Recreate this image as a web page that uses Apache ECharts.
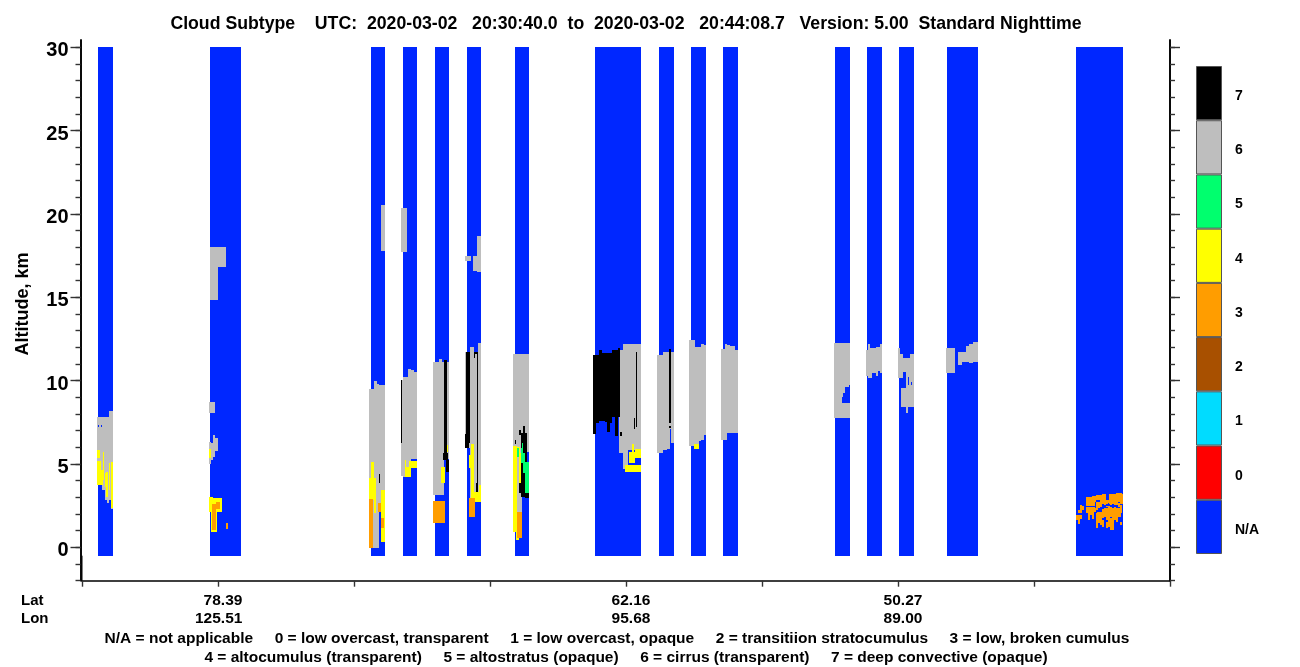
<!DOCTYPE html>
<html>
<head>
<meta charset="utf-8">
<style>html,body{margin:0;padding:0;background:#fff}#c{width:1300px;height:667px}</style>
<script src="https://cdn.jsdelivr.net/npm/echarts@6/dist/echarts.min.js"></script>
</head>
<body>
<div id="c"></div>
<script>
// All rectangles: [profileStart, profileEnd, altitudeBottomKm, altitudeTopKm]
const classNA = [[16,31,-0.5,30],[128,159,-0.5,30],[289,303,-0.5,30],[321,335,-0.5,30],[353,367,-0.5,30],[385,399,-0.5,30],[433,447,-0.5,30],[513,559,-0.5,30],[577,592,-0.5,30],[609,624,-0.5,30],[641,656,-0.5,30],[753,768,-0.5,30],[785,800,-0.5,30],[817,832,-0.5,30],[865,896,-0.5,30],[994,1041,-0.5,30]];
const class6 = [
 [15,20,3.74,7.82],[20,23,3.44,7.82],[23,25,2.84,7.82],[25,27,2.68,7.82],[27,29,2.84,8.18],[29,31,2.3,8.18],
 [128,144,16.81,18.01],[128,136,14.84,16.81],[127,133,8.06,8.72],[127,129,5.0,6.32],[129,131,5.24,6.24],[131,133,5.44,6.74],[133,136,5.78,6.56],
 [299,303,17.77,20.53],[319,325,17.71,20.35],[383,389,17.17,17.47],[391,395,16.57,17.47],[395,399,16.51,18.67],
 [287,292,-0.04,9.5],[292,295,-0.04,9.98],[295,297,-0.04,9.8],[297,299,2.14,9.74],[299,303,3.44,9.74],
 [319,321,4.28,10.04],[321,326,4.22,10.22],[326,329,4.22,10.7],[329,332,5.3,10.64],[332,335,5.3,10.52],
 [351,357,3.14,11.12],[357,360,3.14,11.3],[360,362,3.14,11.12],[362,367,5.3,11.12],
 [383,388,5.94,11.72],[388,392,2.84,12.02],[392,396,2.84,11.72],[396,399,2.84,12.26],
 [431,435,1.0,11.6],[435,440,2.14,11.6],[440,447,5.74,11.6],
 [537,541,5.66,11.84],[541,546,4.7,12.2],[546,559,5.84,12.2],
 [575,581,5.66,11.54],[581,585,5.84,11.74],[585,588,5.9,11.74],[588,589,7.1,11.74],[589,592,6.26,11.7],
 [607,613,6.08,12.44],[613,617,6.08,12.04],[617,619,6.38,12.04],[619,622,6.44,12.2],[622,624,6.74,12.14],
 [639,643,6.44,11.9],[643,645,6.44,12.18],[645,648,6.86,12.14],[648,653,6.86,12.06],[653,656,6.86,11.86],
 [752,760,8.66,12.26],[760,761,9.04,12.26],[761,763,9.28,12.26],[763,767,9.64,12.26],[767,768,9.74,12.26],[752,768,7.76,8.66],
 [784,786,10.28,11.84],[786,788,10.16,12.2],[788,790,10.16,11.94],[790,792,10.44,11.94],[792,794,10.48,11.94],[794,796,10.28,12.04],[796,798,10.56,12.04],[798,800,10.44,12.2],
 [816,818,10.16,11.96],[818,821,10.16,11.6],[821,824,10.5,11.36],[819,824,8.44,9.54],[824,826,8.08,11.36],[826,832,8.4,9.74],[827,832,9.74,10.24],[826,828,10.24,11.36],[828,832,10.24,11.6],
 [864,873,10.46,11.96],[876,880,10.94,11.7],[880,884,11.1,11.7],[884,887,11.1,12.1],[887,891,11.04,12.2],[891,896,11.12,12.32]
];
const class7 = [
 [319,320,6.24,10.04],[297,298,3.84,4.4],
 [362,365,5.64,11.24],[361,366,5.24,5.64],[364,367,4.54,5.24],
 [384,388,6.24,11.72],[383,387,5.94,6.8],[395,396,3.64,11.72],[392,393,11.36,11.72],[392,395,11.6,11.72],[394,396,3.34,3.84],
 [439,445,3.04,6.84],[441,443,6.84,7.28],[437,439,6.74,7.04],[443,447,2.98,3.24],[437,441,3.24,3.84],[433,434,6.2,6.44],
 [511,514,6.8,11.54],[514,517,7.44,11.54],[517,520,7.58,11.84],[520,523,7.6,11.66],[523,525,7.54,11.66],[525,528,6.94,11.66],[528,530,7.44,11.66],[530,533,7.84,11.84],[533,536,6.68,11.84],[536,538,7.84,11.94],
 [554,555,7.24,11.74],[552,553,7.1,7.74],[538,540,6.68,6.94],
 [587,589,7.46,11.9],[587,589,7.16,7.3]
];
const class4 = [
 [15,18,5.34,5.84],[15,19,3.74,5.18],[19,21,3.74,4.64],[21,22,4.04,5.74],[23,24,3.64,4.44],[24,26,3.04,4.54],[27,28,3.44,5.04],[29,31,2.34,5.14],
 [127,129,5.34,5.9],[127,131,2.12,3.02],[131,140,2.12,2.94],[129,135,0.94,2.12],
 [287,294,2.84,4.14],[289,292,2.84,5.14],[292,294,2.04,4.14],[299,303,0.32,3.44],
 [323,329,4.22,4.8],[323,324,4.8,5.24],[327,335,4.76,5.18],
 [359,363,3.84,4.84],[365,366,5.74,6.14],
 [387,389,4.74,5.54],[389,392,3.24,6.2],[389,399,2.7,3.34],[397,399,2.74,3.74],
 [431,435,0.94,6.08],[435,438,5.44,6.04],[437,439,3.84,5.64],[434,437,0.44,0.94],[445,447,4.4,4.54],
 [547,553,5.04,5.7],[553,559,5.34,5.9],[543,559,4.52,4.94],[550,552,5.7,6.2],
 [612,617,5.9,6.2]
];
const class5 = [[443,447,3.26,5.12],[439,441,5.06,5.96],[441,443,4.46,5.66],[435,437,5.42,5.96],[440,441,5.84,6.24]];
const class3 = [
 [130,134,1.04,2.6],[134,138,2.3,2.72],[144,146,1.1,1.46],
 [287,291,-0.04,2.88],[296,299,2.14,2.64],[299,302,1.14,1.74],
 [351,363,1.46,2.78],[387,393,1.82,2.96],[435,440,0.54,2.14],
 [1004,1013,2.48,3.0],[1014,1023,2.6,3.14],[1027,1041,2.6,3.2],[1005,1013,2.14,2.44],[1015,1020,1.64,2.14],[1022,1026,1.84,2.34],[1028,1032,1.84,2.34],[1034,1039,1.84,2.34]
];
// scattered low cloud of the last segment: [profile, bottomKm, topKm]
const speckle3 = [
 [994,1.64,1.94],[996,2.04,2.24],[996,1.4,1.94],[998,2.04,2.54],[998,1.68,1.94],[1000,2.24,2.48],
 [1004,2.48,2.94],[1004,2.04,2.44],[1006,2.48,2.94],[1006,1.64,2.44],[1008,2.6,2.94],[1008,1.94,2.24],
 [1010,2.6,3.08],[1010,1.68,2.14],[1012,2.74,3.08],[1012,2.14,2.34],[1014,2.94,3.08],[1014,2.24,2.64],[1014,1.14,2.04],
 [1016,2.84,3.14],[1016,2.34,2.74],[1016,1.44,2.14],[1018,2.84,3.04],[1018,2.44,2.64],[1018,1.34,1.74],
 [1020,2.64,3.2],[1020,1.74,2.28],[1020,1.24,1.64],[1022,2.54,3.2],[1022,1.84,2.28],[1024,2.44,2.84],[1024,1.64,2.34],[1024,1.14,1.54],
 [1026,2.64,2.84],[1026,1.84,2.6],[1026,1.24,1.84],[1028,2.54,3.04],[1028,2.04,2.44],[1028,1.04,1.74],
 [1030,2.64,3.14],[1030,1.54,2.04],[1030,1.04,1.54],[1032,2.54,3.2],[1032,1.94,2.44],[1032,1.64,1.94],
 [1034,2.54,3.24],[1034,1.54,2.04],[1036,2.74,3.24],[1036,2.44,2.64],[1036,1.94,2.04],
 [1038,2.84,3.24],[1038,2.04,2.54],[1038,1.34,1.54]
];
const naHoles = [[16,17,7.2,7.34],[19,20,7.2,7.34],[829,830,9.74,9.94],[553,559,4.94,5.34],[588,589,6.0,7.1],[1014,1018,2.7,2.84],[1036,1038,2.64,2.74],[1024,1028,2.46,2.6]];
const altitudeLabels = [0,5,10,15,20,25,30];
const altitudeTicks = [-2,-1,0,1,2,3,4,5,6,7,8,9,10,11,12,13,14,15,16,17,18,19,20,21,22,23,24,25,26,27,28,29,30];
const latLonAnchors = [160.4,568.4,840.4];
const latLabels = ['78.39','62.16','50.27'];
const lonLabels = ['125.51','95.68','89.00'];
const legendCategories = ['N/A','0','1','2','3','4','5','6','7'];
const legendColors = ['#0027ff','#ff0000','#00dcff','#a85000','#ff9d00','#ffff00','#00ff6e','#bebebe','#000000'];
const titleText = 'Cloud Subtype    UTC:  2020-03-02   20:30:40.0  to  2020-03-02   20:44:08.7   Version: 5.00  Standard Nighttime';
const keyLine1 = 'N/A = not applicable     0 = low overcast, transparent     1 = low overcast, opaque     2 = transitiion stratocumulus     3 = low, broken cumulus';
const keyLine2 = '4 = altocumulus (transparent)     5 = altostratus (opaque)     6 = cirrus (transparent)     7 = deep convective (opaque)';

const FONT = '"Liberation Sans", Arial, sans-serif';
const YMIN = -2, YMAX = 30.44;

function rects(data, color) {
  return {
    type: 'custom', xAxisIndex: 0, yAxisIndex: 0, silent: true, animation: false, clip: true,
    data: data,
    encode: {x: [0, 1], y: [2, 3]},
    renderItem: function (params, api) {
      const a = api.coord([api.value(0), api.value(3)]);
      const b = api.coord([api.value(1), api.value(2)]);
      const x0 = Math.round(a[0]), y0 = Math.round(a[1]), x1 = Math.round(b[0]), y1 = Math.round(b[1]);
      return {type: 'rect', shape: {x: x0, y: y0, width: x1 - x0, height: y1 - y0}, style: {fill: color, stroke: null}};
    }
  };
}
function yAxisOf(pos, custom, len, labels, offset) {
  return {
    type: 'value', gridIndex: 0, position: pos, min: YMIN, max: YMAX, offset: offset, splitLine: {show: false},
    axisLine: {show: true, onZero: false, lineStyle: {color: '#000', width: 1.6}},
    axisTick: {show: true, length: len, customValues: custom, lineStyle: {color: '#333', width: 1.4}},
    axisLabel: labels ? {show: true, customValues: altitudeLabels, margin: 12, verticalAlign: 'top', lineHeight: 7, color: '#000', fontFamily: FONT, fontWeight: 'bold', fontSize: 20} : {show: false}
  };
}
const speckleRects = speckle3.map(d => [d[0], d[0] + 2, d[1], d[2]]);
const txt = (text, left, top, size, align) => ({text: text, left: left, top: top, padding: 0, textAlign: align || 'center', textStyle: {fontFamily: FONT, fontWeight: 'bold', fontSize: size, color: '#000'}});

const chart = echarts.init(document.getElementById('c'), null, {renderer: 'canvas', width: 1300, height: 667});
chart.setOption({
  animation: false,
  backgroundColor: '#fff',
  title: [
    txt(titleText, 626, 15, 17.7),
    txt('Lat', 21, 593, 15, 'left'),
    txt('Lon', 21, 611, 15, 'left'),
    txt(keyLine1, 617, 631, 15.5),
    txt(keyLine2, 626, 650, 15.5)
  ],
  graphic: [{type: 'text', x: 23, y: 304, rotation: Math.PI / 2, silent: true,
    style: {text: 'Altitude, km', align: 'center', verticalAlign: 'middle', fontFamily: FONT, fontWeight: 'bold', fontSize: 18, fill: '#000'}}],
  grid: [
    {left: 82, width: 1088, top: 40, height: 540.7, show: false, outerBoundsMode: 'none', containLabel: false},
    {left: 1196, width: 26, top: 66, height: 488, show: false, outerBoundsMode: 'none', containLabel: false}
  ],
  xAxis: [
    {type: 'value', gridIndex: 0, min: 0, max: 1088, interval: 136, splitLine: {show: false},
     axisLine: {show: true, onZero: false, lineStyle: {color: '#000', width: 1.6}},
     axisTick: {show: true, length: 6, lineStyle: {color: '#333', width: 1.4}},
     axisLabel: {show: true, customValues: latLonAnchors, align: 'right', margin: 11, hideOverlap: false, color: '#000', fontFamily: FONT, fontWeight: 'bold', fontSize: 15.5, lineHeight: 18,
       formatter: function (v) { const i = latLonAnchors.indexOf(v); return i < 0 ? '' : latLabels[i] + '\n' + lonLabels[i]; }}},
    {type: 'value', gridIndex: 1, min: 0, max: 1, show: false}
  ],
  yAxis: [
    yAxisOf('left', altitudeTicks, 5, false, 1.5),
    yAxisOf('left', altitudeLabels, 10, true, 1.5),
    yAxisOf('right', altitudeTicks, 5, false, 0),
    yAxisOf('right', altitudeLabels, 10, false, 0),
    {type: 'category', gridIndex: 1, position: 'right', data: legendCategories,
     axisLine: {show: false}, axisTick: {show: false}, splitLine: {show: false},
     axisLabel: {margin: 13, interval: 0, verticalAlign: 'top', lineHeight: 6, color: '#000', fontFamily: FONT, fontWeight: 'bold', fontSize: 14}}
  ],
  series: [
    rects(classNA, legendColors[0]),
    rects(class6, legendColors[7]),
    rects(class7, legendColors[8]),
    rects(class4, legendColors[5]),
    rects(class5, legendColors[6]),
    rects(class3, legendColors[4]),
    rects(speckleRects, legendColors[4]),
    rects(naHoles, legendColors[0]),
    {type: 'line', xAxisIndex: 0, yAxisIndex: 0, silent: true, symbol: 'none', data: [[0, -0.5], [0, -2]], lineStyle: {color: '#000', width: 1}, clip: false},
    {type: 'bar', xAxisIndex: 1, yAxisIndex: 4, silent: true, barWidth: '100%',
     data: legendColors.map(c => ({value: 1, itemStyle: {color: c, borderColor: '#555', borderWidth: 1}}))}
  ]
});
</script>
</body>
</html>
